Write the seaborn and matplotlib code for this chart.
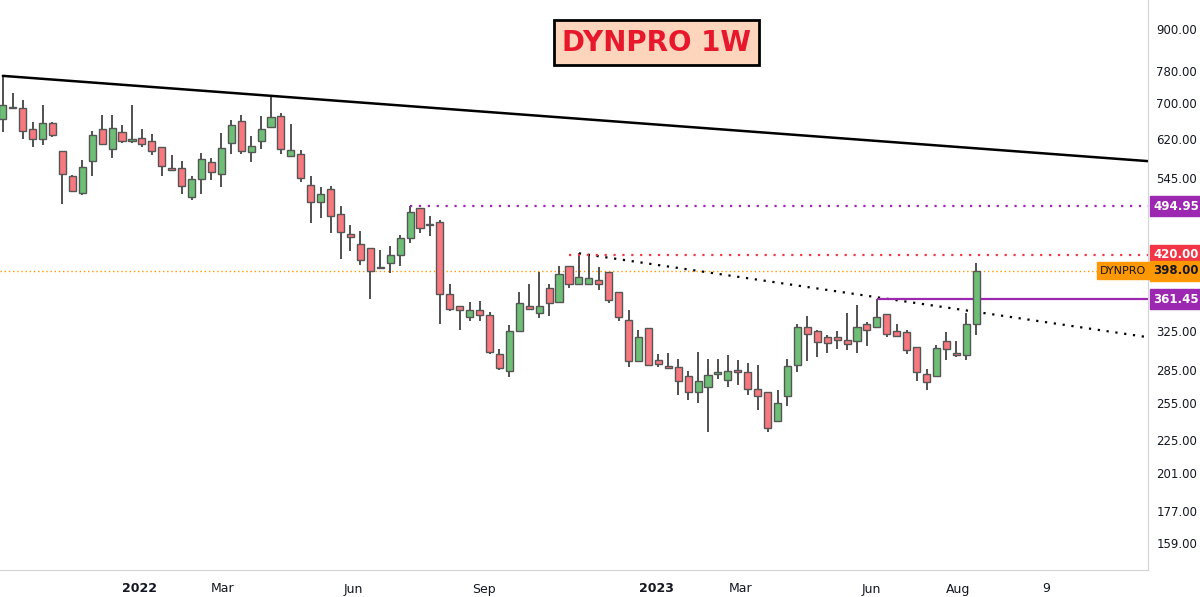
import numpy as np
import pandas as pd
import matplotlib
matplotlib.use("Agg")
import matplotlib.pyplot as plt
import matplotlib.ticker as mticker
import seaborn as sns

# weekly OHLC
opens = [665, 692, 690, 642, 621, 655, 597, 547, 518, 576, 642, 600, 636, 617, 623, 617, 605, 563, 563, 511,
         543, 575, 552, 613, 660, 595, 617, 647, 671, 586, 590, 532, 502, 525, 482, 451, 435, 429, 403, 409,
         420, 445, 492, 466, 469, 368, 353, 341, 348, 343, 300, 284, 325, 353, 345, 375, 358, 405, 381, 381,
         386, 396, 370, 337, 293, 328, 294, 288, 288, 279, 264, 269, 281, 275, 285, 283, 267, 264, 240, 261,
         290, 329, 325, 318, 318, 315, 314, 333, 329, 344, 325, 324, 308, 281, 279, 314, 302, 299, 332]
highs = [768, 725, 708, 657, 695, 657, 597, 550, 579, 638, 673, 673, 651, 697, 642, 632, 605, 588, 576, 547,
         592, 583, 634, 662, 673, 626, 671, 715, 678, 653, 598, 547, 527, 530, 495, 465, 455, 429, 427, 433,
         449, 495, 492, 478, 472, 381, 353, 358, 359, 346, 306, 331, 370, 380, 396, 381, 405, 405, 422, 420,
         403, 396, 371, 349, 326, 328, 301, 302, 295, 284, 303, 295, 295, 299, 294, 292, 290, 264, 266, 295,
         333, 342, 326, 320, 325, 345, 355, 335, 362, 344, 333, 326, 308, 286, 310, 324, 314, 345, 408]
lows = [636, 687, 620, 605, 609, 625, 499, 519, 513, 548, 609, 583, 613, 613, 605, 588, 548, 557, 515, 506,
        516, 541, 528, 590, 590, 575, 600, 645, 590, 586, 536, 467, 476, 452, 414, 426, 406, 362, 401, 395,
        404, 437, 452, 448, 332, 347, 326, 336, 336, 301, 285, 278, 325, 348, 339, 342, 358, 376, 380, 381,
        373, 357, 336, 288, 293, 289, 288, 287, 262, 257, 255, 231, 276, 269, 271, 262, 249, 231, 240, 252,
        283, 293, 297, 302, 306, 305, 302, 309, 329, 318, 318, 301, 274, 266, 279, 294, 297, 294, 320]
closes = [695, 690, 638, 621, 655, 629, 552, 521, 565, 629, 611, 645, 617, 621, 611, 597, 567, 559, 530, 543,
          581, 556, 603, 651, 597, 607, 642, 669, 600, 598, 545, 502, 516, 479, 454, 446, 412, 398, 401, 420,
          445, 485, 459, 464, 368, 350, 348, 348, 343, 303, 287, 325, 357, 350, 353, 357, 394, 381, 390, 388,
          381, 360, 340, 293, 318, 290, 291, 287, 274, 264, 274, 280, 283, 284, 283, 267, 261, 234, 255, 289,
          329, 322, 313, 312, 315, 311, 329, 326, 341, 322, 319, 305, 283, 273, 307, 306, 299, 332, 398]
dates = pd.date_range(end="2023-08-14", periods=len(closes), freq="W-MON")

tick_prices = [1000, 900, 780, 700, 620, 545, 325, 285, 255, 225, 201, 177, 159]
x_labels = ["2022", "Mar", "Jun", "Sep", "2023", "Mar", "Jun", "Aug", "9"]
x_label_dates = ["2022-01-01", "2022-03-01", "2022-06-01", "2022-09-01", "2023-01-01",
                 "2023-03-01", "2023-06-01", "2023-08-01", "2023-10-02"]

green = "#6dbf76"
red = "#f7787f"

sns.set_style("white")
plt.rcParams["font.family"] = ["DejaVu Sans"]

fig = plt.figure(figsize=(12, 5.97), dpi=100)
ax = fig.add_axes([0, 1 - 570 / 597, 1148 / 1200, 570 / 597])

df = pd.DataFrame({"date": dates, "open": opens, "high": highs, "low": lows, "close": closes})
up = df["close"] >= df["open"]
cols = np.where(up, green, red)

ax.vlines(df["date"], df["low"], df["high"], color="#333333", linewidth=1.2, zorder=2)
bottoms = np.minimum(df["open"], df["close"])
heights = np.maximum(np.abs(df["close"] - df["open"]), 1.5)
ax.bar(df["date"], heights, bottom=bottoms, width=5, color=cols, edgecolor="#555555",
       linewidth=1, zorder=3)

xmin = dates[0] - pd.Timedelta(days=2)
xmax = dates[-1] + pd.Timedelta(weeks=17.3)

# trend lines
trend_main = pd.DataFrame({"date": [dates[0], xmax], "price": [768, 576]})
sns.lineplot(data=trend_main, x="date", y="price", color="black", linewidth=1.8, ax=ax)
trend_dot = pd.DataFrame({"date": [dates[58], xmax], "price": [422, 318]})
sns.lineplot(data=trend_dot, x="date", y="price", color="black", linewidth=1.6,
             linestyle=(0, (1, 3)), ax=ax)
ax.hlines(494.95, dates[41], xmax, color="#9c27b0", linewidth=1.6, linestyles=(0, (1, 3)))
ax.hlines(420, dates[57], xmax, color="#f23645", linewidth=1.6, linestyles=(0, (1, 3)))
ax.hlines(361.45, dates[88], xmax, color="#9c27b0", linewidth=1.6)
ax.axhline(398, color="#ff9800", linewidth=1.0, linestyle=(0, (1, 2)), zorder=1)

ax.set_yscale("log")
ax.set_ylim(145, 992)
ax.set_xlim(xmin, xmax)
ax.yaxis.tick_right()
ax.yaxis.set_major_locator(mticker.FixedLocator(tick_prices))
ax.yaxis.set_major_formatter(mticker.FuncFormatter(lambda v, p: f"{v:.2f}"))
ax.yaxis.set_minor_locator(mticker.NullLocator())
ax.tick_params(axis="y", length=0, labelsize=8.5, labelcolor="#131722", pad=6)
ax.set_xticks(pd.to_datetime(x_label_dates))
ax.set_xticklabels(x_labels)
for lbl in ax.get_xticklabels():
    if lbl.get_text() in ("2022", "2023"):
        lbl.set_fontweight("bold")
ax.tick_params(axis="x", length=0, labelsize=9, labelcolor="#131722", pad=9)
ax.set_xlabel("")
ax.set_ylabel("")
for s in ["top", "left"]:
    ax.spines[s].set_visible(False)
ax.spines["right"].set_color("#d1d4dc")
ax.spines["bottom"].set_color("#d1d4dc")

# price labels on the axis
def price_tag(price, text, bg, fg="white"):
    ax.text(1.0045, price, text, transform=ax.get_yaxis_transform(), fontsize=8.5,
            color=fg, va="center", ha="left", fontweight="bold",
            bbox=dict(boxstyle="square,pad=0.3", fc=bg, ec=bg), zorder=5)

price_tag(494.95, "494.95", "#9c27b0")
price_tag(420, "420.00", "#f23645")
price_tag(398, "398.00", "#ff9800", fg="#131722")
price_tag(361.45, "361.45", "#9c27b0")
ax.text(0.9985, 398, "DYNPRO", transform=ax.get_yaxis_transform(), fontsize=8,
        color="#131722", va="center", ha="right",
        bbox=dict(boxstyle="square,pad=0.3", fc="#ff9800", ec="#ff9800"), zorder=5)

ax.text(0.572, 0.925, "DYNPRO 1W", transform=ax.transAxes, fontsize=20, fontweight="bold",
        color="#e8182c", ha="center", va="center",
        bbox=dict(boxstyle="square,pad=0.3", fc="#fdd5bd", ec="black", lw=2))

fig.savefig("out.png", dpi=100)
